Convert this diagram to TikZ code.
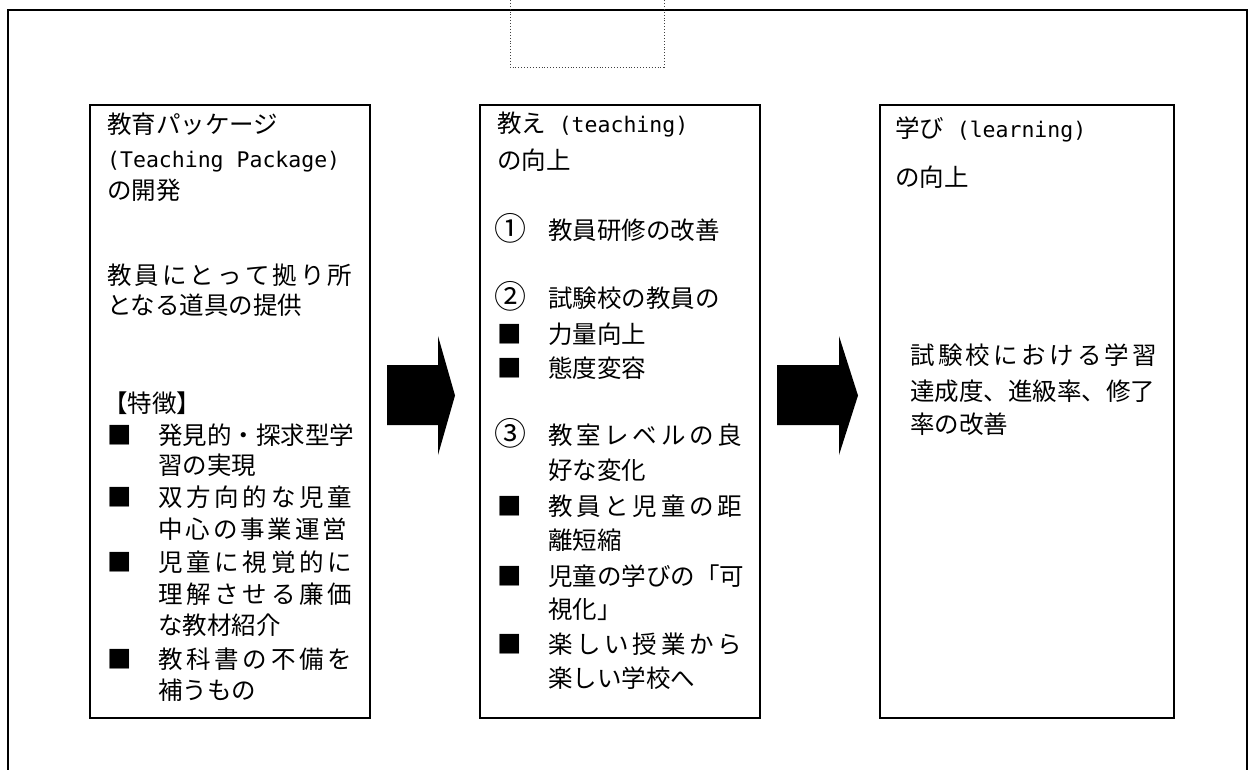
\documentclass[tikz,border=0pt]{standalone}
\usepackage{fontspec}
\setmainfont{Noto Sans CJK JP}
\newfontfamily\monofam{DejaVu Sans Mono}
\newcommand\lat{\monofam\fontsize{21.5}{25}\selectfont}
\newcommand\circnum{\fontsize{32}{34}\selectfont}
\makeatletter
\newcommand\spreadline[2]{\hbox to #1pt{\def\jsep{}\@tfor\jch:=#2\do{\jsep\jch\def\jsep{\hfil}}}}
\makeatother
\newcommand\tline[4]{\node[txt] (#1) at (#2,{#3+9}) {#4};}
\begin{document}
\begin{tikzpicture}[x=1pt,y=-1pt,
  txt/.style={anchor=base west,inner sep=0pt,font=\fontsize{24.5}{30}\selectfont},
  box/.style={draw,line width=1.6pt,anchor=north west,inner sep=0pt,minimum height=613pt},
  blockarrow/.style={fill=black,draw=none}]
\useasboundingbox (0,0) rectangle (1248,769);
% outer frame (open at the bottom of the picture)
\draw[line width=1.6pt] (8,790) -- (8,10) -- (1247,10) -- (1247,790);
% dotted box at the top
\draw[dotted,line width=0.9pt,black!75] (510,-3) -- (510,67) -- (664,67) -- (664,-3);
% three boxes
\node[box,minimum width=280pt] (b1) at (89,104) {};
\node[box,minimum width=280pt] (b2) at (479,104) {};
\node[box,minimum width=294pt] (b3) at (879,104) {};
% block arrows
\fill[blockarrow] (387,365) -- (438,365) -- (438,336) -- (455,395.5) -- (438,455) -- (438,425) -- (387,425) -- cycle;
\fill[blockarrow] (777,365) -- (839,365) -- (839,336) -- (858,395.5) -- (839,455) -- (839,425) -- (777,425) -- cycle;
% box 1
\tline{a1}{107}{124}{教育パッケージ}
\tline{a2}{107}{158}{\lat (Teaching Package)}
\tline{a3}{107}{190}{の開発}
\tline{a4}{107}{275}{\spreadline{245}{教員にとって拠り所}}
\tline{a5}{107}{305}{となる道具の提供}
\tline{a6}{103}{403}{【特徴】}
\tline{am1}{107}{435}{■}
\tline{am2}{107}{497}{■}
\tline{am3}{107}{562}{■}
\tline{am4}{107}{659}{■}
\tline{a7}{158}{435}{発見的・探求型学}
\tline{a8}{158}{465}{習の実現}
\tline{a9}{158}{497}{\spreadline{194}{双方向的な児童}}
\tline{a10}{158}{529}{\spreadline{189}{中心の事業運営}}
\tline{a11}{158}{562}{\spreadline{194}{児童に視覚的に}}
\tline{a12}{158}{594}{\spreadline{194}{理解させる廉価}}
\tline{a13}{158}{625}{な教材紹介}
\tline{a14}{158}{659}{\spreadline{194}{教科書の不備を}}
\tline{a15}{158}{690}{補うもの}
% box 2
\tline{c1}{497}{123}{教え\hspace{12.6pt}{\lat (teaching)}}
\tline{c2}{497}{160}{の向上}
\tline{cn1}{494}{231}{\circnum ①}
\tline{c3}{548}{230}{教員研修の改善}
\tline{cn2}{494}{299}{\circnum ②}
\tline{c4}{548}{298}{試験校の教員の}
\tline{cm1}{497}{334}{■}
\tline{c5}{548}{334}{力量向上}
\tline{cm2}{497}{368}{■}
\tline{c6}{548}{368}{態度変容}
\tline{cn3}{494}{436}{\circnum ③}
\tline{c7}{548}{435}{\spreadline{194}{教室レベルの良}}
\tline{c8}{548}{470}{好な変化}
\tline{cm3}{497}{506}{■}
\tline{c9}{548}{506}{\spreadline{194}{教員と児童の距}}
\tline{c10}{548}{540}{離短縮}
\tline{cm4}{497}{576}{■}
\tline{c11}{548}{576}{児童の学びの「可}
\tline{c12}{548}{609}{視化」}
\tline{cm5}{497}{644}{■}
\tline{c13}{548}{644}{\spreadline{194}{楽しい授業から}}
\tline{c14}{548}{678}{楽しい学校へ}
% box 3
\tline{d1}{895}{128}{学び\hspace{12.6pt}{\lat (learning)}}
\tline{d2}{895}{177}{の向上}
\tline{d3}{910}{355}{\spreadline{247}{試験校における学習}}
\tline{d4}{910}{391}{達成度、進級率、修了}
\tline{d5}{910}{424}{率の改善}
\end{tikzpicture}
\end{document}
